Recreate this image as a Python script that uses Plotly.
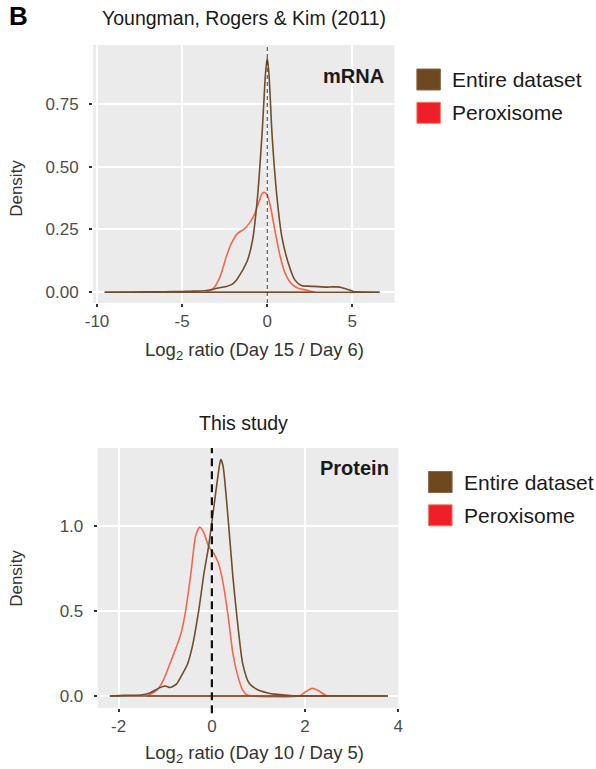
import plotly.graph_objects as go

# ---------------- data ----------------
mrna_all_x = [-9.55, -8, -6, -5, -4.5, -3.7, -3.15, -2.8, -2.4, -2.1, -1.8, -1.6, -1.43, -1.15,
              -0.86, -0.57, -0.29, -0.1, 0, 0.1, 0.29, 0.57, 0.86, 1.24, 1.62, 2.0, 2.4, 2.77,
              3.2, 3.53, 3.8, 4.1, 4.4, 4.68, 5.06, 5.5, 6.6]
mrna_all_y = [0, 0.001, 0.002, 0.003, 0.004, 0.006, 0.012, 0.018, 0.023, 0.03, 0.049, 0.07, 0.089,
              0.129, 0.208, 0.38, 0.646, 0.872, 0.932, 0.87, 0.62, 0.38, 0.22, 0.115, 0.049, 0.027,
              0.024, 0.023, 0.021, 0.02, 0.021, 0.021, 0.018, 0.012, 0.003, 0.001, 0]

mrna_perox_x = [-3.6, -3.15, -2.77, -2.4, -2.1, -1.72, -1.34, -1.05, -0.76, -0.48, -0.29, -0.13,
                0, 0.19, 0.48, 0.76, 1.05, 1.43, 1.81, 2.39, 2.8]
mrna_perox_y = [0, 0.016, 0.062, 0.142, 0.195, 0.235, 0.252, 0.275, 0.308, 0.361, 0.394, 0.397,
                0.387, 0.341, 0.235, 0.142, 0.076, 0.033, 0.016, 0.007, 0]

prot_all_x = [-2.19, -1.875, -1.53, -1.32, -1.15, -1.0, -0.9, -0.76, -0.625, -0.52, -0.42, -0.28,
              -0.17, -0.07, 0.035, 0.14, 0.19, 0.24, 0.35, 0.45, 0.56, 0.66, 0.8, 0.97, 1.18,
              1.39, 1.74, 2.5, 3.78]
prot_all_y = [0, 0.004, 0.006, 0.02, 0.045, 0.059, 0.05, 0.07, 0.133, 0.19, 0.29, 0.506, 0.72,
              0.878, 1.094, 1.31, 1.388, 1.349, 1.035, 0.702, 0.408, 0.192, 0.075, 0.039, 0.02,
              0.01, 0.002, 0.001, 0]

prot_perox_x = [-1.39, -1.18, -1.04, -0.9, -0.76, -0.66, -0.56, -0.45, -0.35, -0.26, -0.17, -0.07,
                0.035, 0.14, 0.24, 0.35, 0.45, 0.56, 0.66, 0.76, 0.87, 1.875, 2.01, 2.15, 2.29,
                2.43, 2.5]
prot_perox_y = [0, 0.035, 0.094, 0.19, 0.29, 0.37, 0.506, 0.72, 0.937, 0.992, 0.957, 0.878, 0.839,
                0.78, 0.663, 0.467, 0.251, 0.114, 0.035, 0.006, 0, 0, 0.025, 0.045, 0.031, 0.006, 0]

series_names = ["Entire dataset", "Peroxisome"]
top_xticks = [-10, -5, 0, 5]
top_yticks = [0.0, 0.25, 0.50, 0.75]
bot_xticks = [-2, 0, 2, 4]
bot_yticks = [0.0, 0.5, 1.0]
ref_x = 0

top_title = "Youngman, Rogers & Kim (2011)"
bot_title = "This study"
top_label = "mRNA"
bot_label = "Protein"
top_xtitle = "Log<sub>2</sub> ratio (Day 15 / Day 6)"
bot_xtitle = "Log<sub>2</sub> ratio (Day 10 / Day 5)"

# ---------------- styling ----------------
W, H = 596, 769
FONT = "Liberation Sans, Arial, Helvetica, sans-serif"
BROWN_LINE = "#724C2B"
RED_LINE = "#F4674C"
BROWN_KEY = "#6E481F"
RED_KEY = "#EE1F26"

def px_x(p):
    return p / W

def px_y(p):
    return 1 - p / H

fig = go.Figure()

def add_density(x, y, color, xa, ya):
    fig.add_trace(go.Scatter(x=[min(x), max(x)], y=[0, 0], mode="lines",
                             line=dict(color=color, width=1.6), xaxis=xa, yaxis=ya,
                             showlegend=False, hoverinfo="skip"))
    fig.add_trace(go.Scatter(x=x, y=y, mode="lines",
                             line=dict(color=color, width=1.6, shape="spline", smoothing=0.6),
                             xaxis=xa, yaxis=ya, showlegend=False))

add_density(mrna_perox_x, mrna_perox_y, RED_LINE, "x", "y")
add_density(mrna_all_x, mrna_all_y, BROWN_LINE, "x", "y")
add_density(prot_perox_x, prot_perox_y, RED_LINE, "x2", "y2")
add_density(prot_all_x, prot_all_y, BROWN_LINE, "x2", "y2")

axis_common = dict(showgrid=True, gridcolor="white", gridwidth=1.5, zeroline=False,
                   showline=False, ticks="outside", ticklen=3, tickwidth=1.6,
                   tickcolor="#333333", tickfont=dict(family=FONT, size=17, color="#4D4D4D"))

fig.update_layout(
    width=W, height=H,
    margin=dict(l=0, r=0, t=0, b=0),
    paper_bgcolor="white", plot_bgcolor="#EBEBEB",
    showlegend=False,
    xaxis=dict(domain=[px_x(87), px_x(395)], range=[-10.23, 7.47], anchor="y",
               tickvals=top_xticks, ticktext=[str(v) for v in top_xticks], **axis_common),
    yaxis=dict(domain=[px_y(303), px_y(45)], range=[-0.043, 0.984], anchor="x",
               tickvals=top_yticks, tickformat=".2f", ticklabelstandoff=7, **axis_common),
    xaxis2=dict(domain=[px_x(91.7), px_x(399)], range=[-2.45, 4.0], anchor="y2",
                tickvals=bot_xticks, ticktext=[str(v) for v in bot_xticks], **axis_common),
    yaxis2=dict(domain=[px_y(708), px_y(448)], range=[-0.07, 1.455], anchor="x2",
                tickvals=bot_yticks, tickformat=".1f", ticklabelstandoff=7, **axis_common),
)

shapes = []
# reference lines at 0
shapes.append(dict(type="line", xref="x", yref="y domain", x0=ref_x, x1=ref_x, y0=0, y1=1,
                   line=dict(color="#333333", width=1, dash="4px,3px")))
shapes.append(dict(type="line", xref="x2", yref="y2 domain", x0=ref_x, x1=ref_x, y0=-0.02, y1=1,
                   line=dict(color="#111111", width=2.2, dash="8px,5px")))

annotations = []

def add_legend(x_left, y_top):
    for i, (name, fill, edge) in enumerate(zip(series_names, [BROWN_KEY, RED_KEY],
                                                ["#8B6542", "#F47A66"])):
        y0 = y_top + i * 33.3
        shapes.append(dict(type="rect", xref="paper", yref="paper",
                           x0=px_x(x_left), x1=px_x(x_left + 24), y0=px_y(y0 + 21), y1=px_y(y0),
                           fillcolor=fill, line=dict(color=edge, width=1)))
        annotations.append(dict(text=name, xref="paper", yref="paper", x=px_x(x_left + 34),
                                y=px_y(y0 + 10.5), xanchor="left", yanchor="middle",
                                showarrow=False, font=dict(family=FONT, size=21, color="#1A1A1A")))

add_legend(418, 69)
add_legend(430, 471.5)

def add_text(text, x, y, size, color="#1A1A1A", bold=False, angle=0, xanchor="center"):
    annotations.append(dict(text=f"<b>{text}</b>" if bold else text, xref="paper", yref="paper",
                            x=px_x(x), y=px_y(y), xanchor=xanchor, yanchor="middle",
                            textangle=angle, showarrow=False,
                            font=dict(family=FONT, size=size, color=color)))

add_text(top_title, 241, 18, 19.5)
add_text(bot_title, 241, 423, 19.5)
add_text(top_label, 386, 76, 20, bold=True, xanchor="right")
add_text(bot_label, 392, 468, 20, bold=True, xanchor="right")
add_text("Density", 8, 188, 17, color="#333333", angle=-90)
add_text("Density", 8, 578, 17, color="#333333", angle=-90)
add_text(top_xtitle, 252, 351, 18.5, color="#333333")
add_text(bot_xtitle, 252, 754, 18.5, color="#333333")
add_text("B", 11, 16, 26, color="black", bold=True)

fig.update_layout(shapes=shapes, annotations=annotations)
fig.write_html("out.html")
